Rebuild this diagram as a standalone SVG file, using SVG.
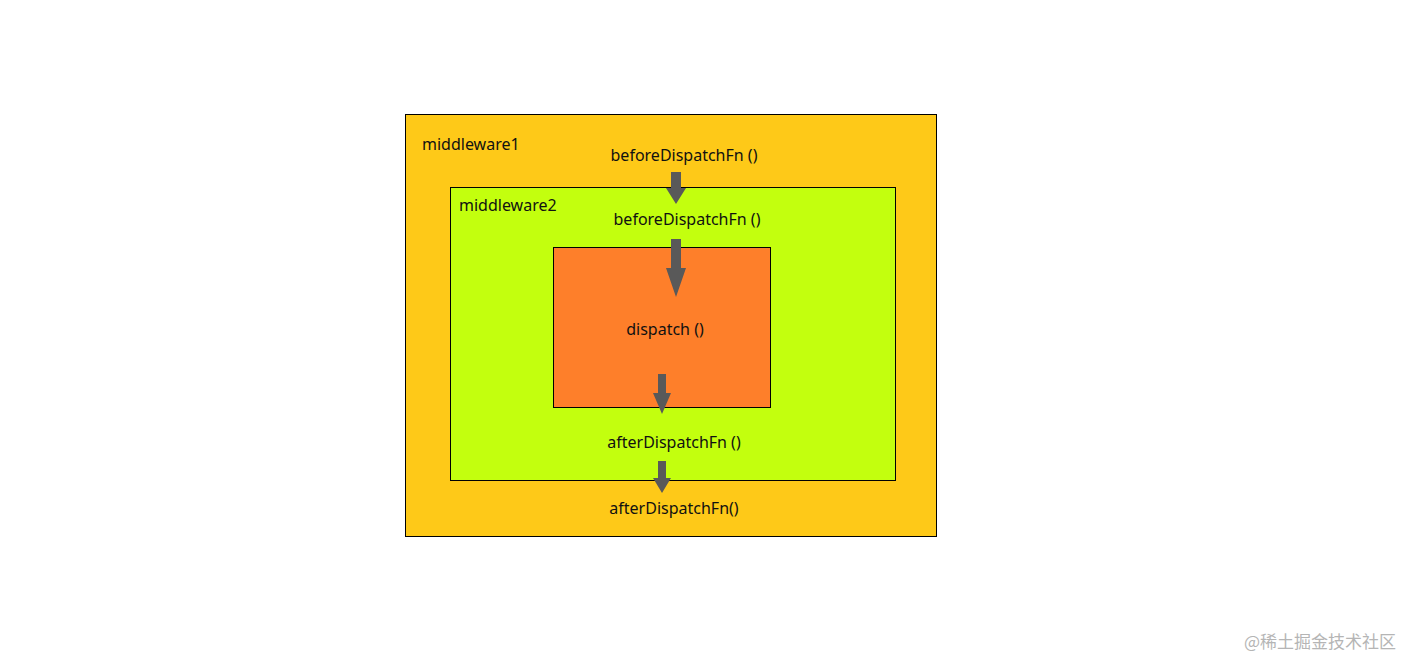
<svg xmlns="http://www.w3.org/2000/svg" width="1416" height="672" viewBox="0 0 1416 672">
<style>
text{font-family:"Segoe UI","Noto Sans","Liberation Sans",sans-serif;font-size:16px;fill:#111}
.box{stroke:#000;stroke-width:1}
.arr{fill:#595959}
</style>
<rect width="1416" height="672" fill="#fff"/>
<g id="middleware1"><rect class="box" x="405.5" y="114.5" width="531" height="422" fill="#fec918"/>
<text x="422" y="150">middleware1</text>
<text x="684" y="161" text-anchor="middle">beforeDispatchFn ()</text>
<text x="674" y="514" text-anchor="middle">afterDispatchFn()</text></g>
<g id="middleware2"><rect class="box" x="450.5" y="187.5" width="445" height="293" fill="#c3ff0e"/>
<text x="459" y="211">middleware2</text>
<text x="687" y="225" text-anchor="middle">beforeDispatchFn ()</text>
<text x="674" y="448" text-anchor="middle">afterDispatchFn ()</text></g>
<g id="dispatch"><rect class="box" x="553.5" y="247.5" width="217" height="160" fill="#fe7f2a"/>
<text x="665" y="335" text-anchor="middle">dispatch ()</text></g>
<g id="connectors">
<polygon class="arr" points="671,172 681,172 681,188 686,188 676,204 666,188 671,188"/>
<polygon class="arr" points="671,239 681,239 681,268 686,268 676,297 666,268 671,268"/>
<polygon class="arr" points="658,374 666,374 666,393 671,393 662,414 653,393 658,393"/>
<polygon class="arr" points="658,461 666,461 666,478 671,478 662,493 653,478 658,478"/>
</g>
<text x="1396" y="648" text-anchor="end" style="font-family:'Noto Sans CJK SC',sans-serif;font-size:17px;fill:#b5b5b5">@稀土掘金技术社区</text>
</svg>
